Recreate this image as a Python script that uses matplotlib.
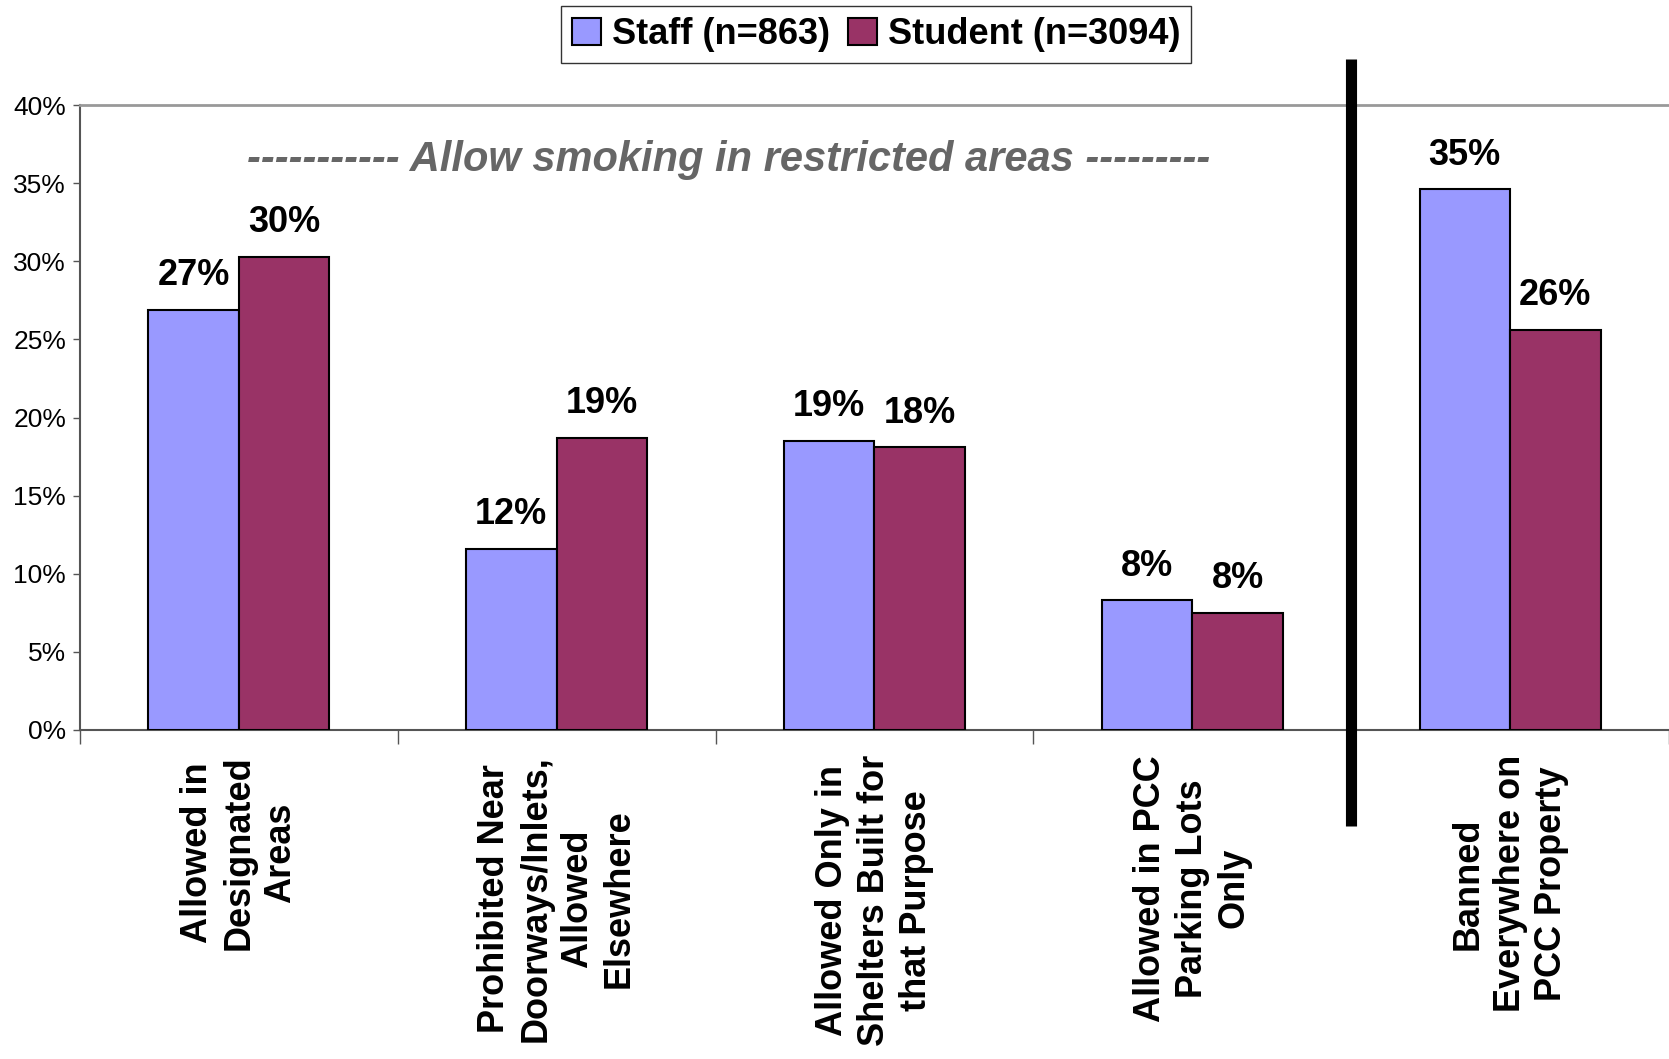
import numpy as np
import matplotlib
matplotlib.use("Agg")
import matplotlib.pyplot as plt
import matplotlib.transforms as mtransforms
from matplotlib.patches import Patch

plt.rcParams["font.family"] = ["Liberation Sans", "DejaVu Sans"]

categories = [
    "Allowed in\nDesignated\nAreas",
    "Prohibited Near\nDoorways/Inlets,\nAllowed\nElsewhere",
    "Allowed Only in\nShelters Built for\nthat Purpose",
    "Allowed in PCC\nParking Lots\nOnly",
    "Banned\nEverywhere on\nPCC Property",
]
staff = [26.9, 11.6, 18.5, 8.3, 34.6]
student = [30.3, 18.7, 18.1, 7.5, 25.6]
staff_labels = ["27%", "12%", "19%", "8%", "35%"]
student_labels = ["30%", "19%", "18%", "8%", "26%"]
yticks = [0, 5, 10, 15, 20, 25, 30, 35, 40]

STAFF_COLOR = "#9999FF"
STUDENT_COLOR = "#993366"

fig = plt.figure(figsize=(16.69, 10.59), dpi=100)
ax = fig.add_axes([0.0479, 0.3107, 0.9521, 0.5901])

x = np.arange(len(categories))
w = 0.285
ax.bar(x - w / 2, staff, w, color=STAFF_COLOR, edgecolor="black", linewidth=1.5,
       label="Staff (n=863)", zorder=3)
ax.bar(x + w / 2, student, w, color=STUDENT_COLOR, edgecolor="black", linewidth=1.5,
       label="Student (n=3094)", zorder=3)

for xi, v, t in zip(x - w / 2, staff, staff_labels):
    ax.annotate(t, (xi, v), xytext=(0, 12), textcoords="offset points",
                ha="center", va="bottom", fontsize=26, fontweight="bold")
for xi, v, t in zip(x + w / 2, student, student_labels):
    ax.annotate(t, (xi, v), xytext=(0, 12), textcoords="offset points",
                ha="center", va="bottom", fontsize=26, fontweight="bold")

ax.set_xlim(-0.5, 4.48)
ax.set_ylim(0, 40)
ax.set_yticks(yticks)
ax.set_yticklabels([f"{t}%" for t in yticks], fontsize=19)
ax.tick_params(axis="y", direction="out", length=5, width=1, color="#555555", pad=5)

# category boundaries as ticks, labels as minor ticks at centres
ax.set_xticks(np.arange(-0.5, 4.6, 1.0))
ax.set_xticklabels([])
ax.tick_params(axis="x", which="major", direction="out", length=10, width=1, color="#555555")
ax.set_xticks(x, minor=True)
ax.set_xticklabels(categories, minor=True, rotation=90, fontsize=26,
                   fontweight="bold", ha="center", va="top", multialignment="center",
                   linespacing=1.25)
ax.tick_params(axis="x", which="minor", length=0, pad=18)

for side in ["left", "bottom"]:
    ax.spines[side].set_color("#555555")
    ax.spines[side].set_linewidth(1.5)
ax.spines["top"].set_color("#999999")
ax.spines["top"].set_linewidth(2)
ax.spines["right"].set_visible(False)

ax.text(1.54, 36.5, "----------- Allow smoking in restricted areas ---------",
        ha="center", va="center", fontsize=30, fontweight="bold",
        fontstyle="italic", color="#666666")

# thick divider between restricted options and ban
trans = mtransforms.blended_transform_factory(ax.transData, ax.transAxes)
ax.plot([3.5, 3.5], [-0.154, 1.074], color="black", linewidth=8,
        transform=trans, clip_on=False, solid_capstyle="butt", zorder=5)

handles = [
    Patch(facecolor=STAFF_COLOR, edgecolor="black", linewidth=1.5, label="Staff (n=863)"),
    Patch(facecolor=STUDENT_COLOR, edgecolor="black", linewidth=1.5, label="Student (n=3094)"),
]
leg = fig.legend(handles=handles, loc="upper center", bbox_to_anchor=(0.525, 0.994),
                 ncol=2, frameon=True, fancybox=False, borderaxespad=0,
                 handlelength=0.8, handleheight=0.8, handletextpad=0.3,
                 columnspacing=0.5, borderpad=0.3, edgecolor="black",
                 prop={"weight": "bold", "size": 26})
leg.get_frame().set_linewidth(1.0)

fig.savefig("out.png", dpi=100)
